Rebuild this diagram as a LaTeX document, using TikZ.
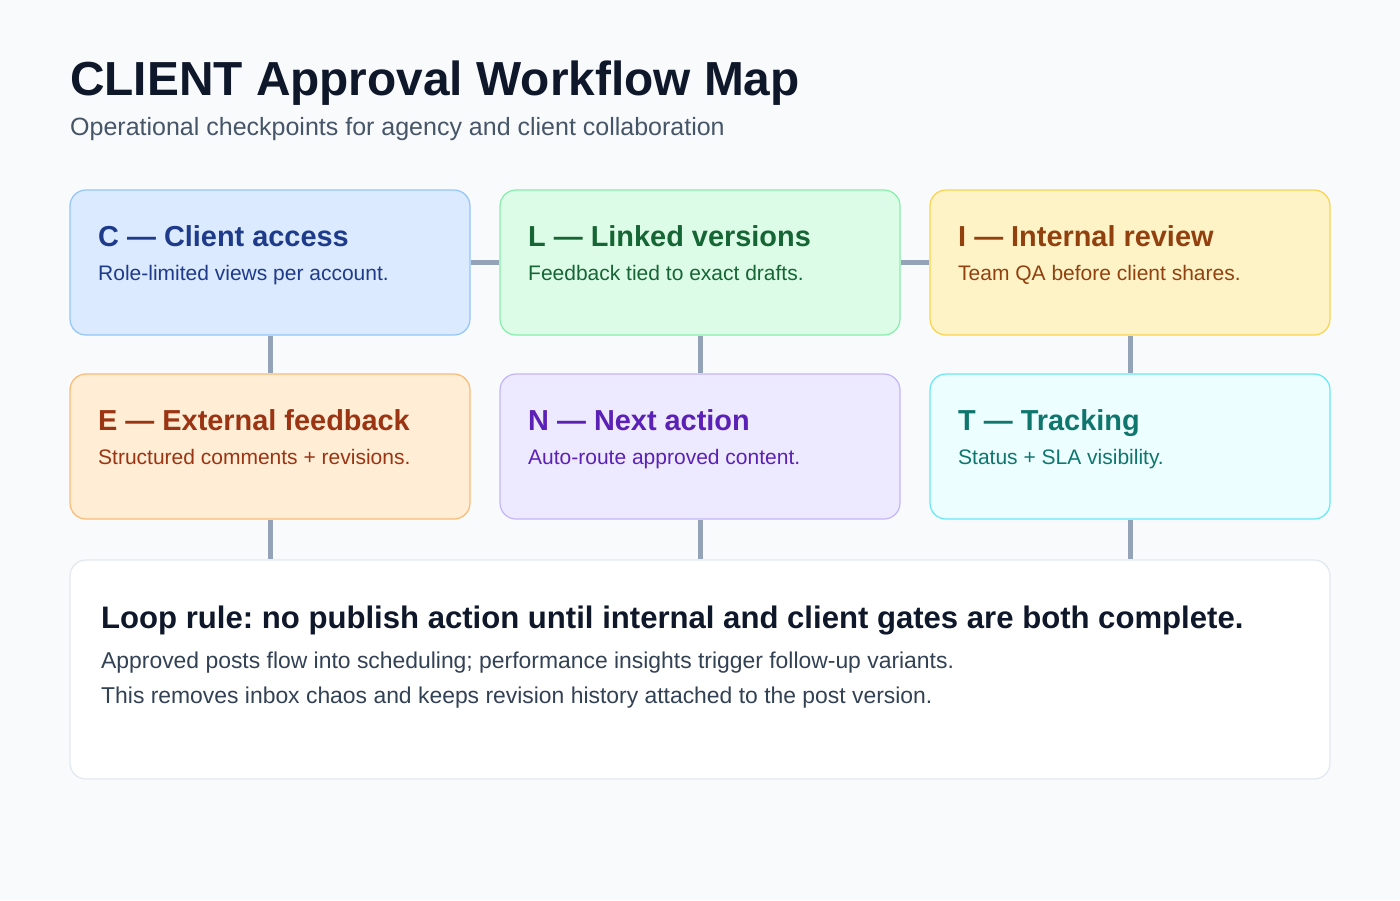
\documentclass[tikz,border=0pt]{standalone}
\usepackage{fontspec}
\setmainfont{Liberation Sans}
\frenchspacing
\definecolor{bg}{HTML}{F8FAFC}
\definecolor{ink}{HTML}{0F172A}
\definecolor{subink}{HTML}{475569}
\definecolor{bodyink}{HTML}{334155}
\definecolor{conn}{HTML}{94A3B8}
\definecolor{cfill}{HTML}{DBEAFE}\definecolor{cdraw}{HTML}{93C5FD}\definecolor{ctext}{HTML}{1E3A8A}
\definecolor{lfill}{HTML}{DCFCE7}\definecolor{ldraw}{HTML}{86EFAC}\definecolor{ltext}{HTML}{166534}
\definecolor{ifill}{HTML}{FEF3C7}\definecolor{idraw}{HTML}{FCD34D}\definecolor{itext}{HTML}{92400E}
\definecolor{efill}{HTML}{FFEDD5}\definecolor{edraw}{HTML}{FDBA74}\definecolor{etext}{HTML}{9A3412}
\definecolor{nfill}{HTML}{EDE9FE}\definecolor{ndraw}{HTML}{C4B5FD}\definecolor{ntext}{HTML}{5B21B6}
\definecolor{tfill}{HTML}{ECFEFF}\definecolor{tdraw}{HTML}{67E8F9}\definecolor{ttext}{HTML}{0F766E}
\definecolor{bdraw}{HTML}{E2E8F0}
\tikzset{
  card/.style={draw, line width=1.2pt, rounded corners=16pt, minimum width=400pt, minimum height=145pt, inner sep=0pt},
  link/.style={draw=conn, line width=5pt},
  lbl/.style={anchor=base west, inner sep=0pt},
  cardtitle/.style={lbl, font=\fontsize{28.9}{32}\selectfont\bfseries},
  cardsub/.style={lbl, font=\fontsize{21}{24}\selectfont},
  bodyline/.style={lbl, text=bodyink, font=\fontsize{22.9}{26}\selectfont},
}
\begin{document}
\begin{tikzpicture}[x=1pt,y=-1pt]
\fill[bg] (0,0) rectangle (1400,900);
\useasboundingbox (0,0) rectangle (1400,900);

\node[lbl, text=ink, font=\fontsize{47.8}{52}\selectfont\bfseries] (title) at (70,95) {CLIENT Approval Workflow Map};
\node[lbl, text=subink, font=\fontsize{25}{28}\selectfont] (subtitle) at (70,135) {Operational checkpoints for agency and client collaboration};

% cards
\node[card, fill=cfill, draw=cdraw] (C) at (270,262.5) {};
\node[card, fill=lfill, draw=ldraw] (L) at (700,262.5) {};
\node[card, fill=ifill, draw=idraw] (I) at (1130,262.5) {};
\node[card, fill=efill, draw=edraw] (E) at (270,446.5) {};
\node[card, fill=nfill, draw=ndraw] (N) at (700,446.5) {};
\node[card, fill=tfill, draw=tdraw] (T) at (1130,446.5) {};
\node[draw=bdraw, fill=white, line width=1.2pt, rounded corners=16pt, minimum width=1260pt, minimum height=219pt, inner sep=0pt] (B) at (700,669.5) {};

% connectors
\draw[link] (C.east) -- (L.west);
\draw[link] (L.east) -- (I.west);
\draw[link] (C.south) -- (E.north);
\draw[link] (L.south) -- (N.north);
\draw[link] (I.south) -- (T.north);
\draw[link] (E.south) -- (E.south |- B.north);
\draw[link] (N.south) -- (N.south |- B.north);
\draw[link] (T.south) -- (T.south |- B.north);

% card texts
\node[cardtitle, text=ctext] (Ct) at (98,246) {C — Client access};
\node[cardsub, text=ctext] (Cs) at (98,280) {Role-limited views per account.};
\node[cardtitle, text=ltext] (Lt) at (528,246) {L — Linked versions};
\node[cardsub, text=ltext] (Ls) at (528,280) {Feedback tied to exact drafts.};
\node[cardtitle, text=itext] (It) at (958,246) {I — Internal review};
\node[cardsub, text=itext] (Is) at (958,280) {Team QA before client shares.};
\node[cardtitle, text=etext] (Et) at (98,430) {E — External feedback};
\node[cardsub, text=etext] (Es) at (98,464) {Structured comments + revisions.};
\node[cardtitle, text=ntext] (Nt) at (528,430) {N — Next action};
\node[cardsub, text=ntext] (Ns) at (528,464) {Auto-route approved content.};
\node[cardtitle, text=ttext] (Tt) at (958,430) {T — Tracking};
\node[cardsub, text=ttext] (Ts) at (958,464) {Status + SLA visibility.};

% bottom texts
\node[lbl, text=ink, font=\fontsize{31.1}{34}\selectfont\bfseries] (Bt) at (101,628) {Loop rule: no publish action until internal and client gates are both complete.};
\node[bodyline] (B1) at (101,668) {Approved posts flow into scheduling; performance insights trigger follow-up variants.};
\node[bodyline] (B2) at (101,703) {This removes inbox chaos and keeps revision history attached to the post version.};
\end{tikzpicture}
\end{document}
